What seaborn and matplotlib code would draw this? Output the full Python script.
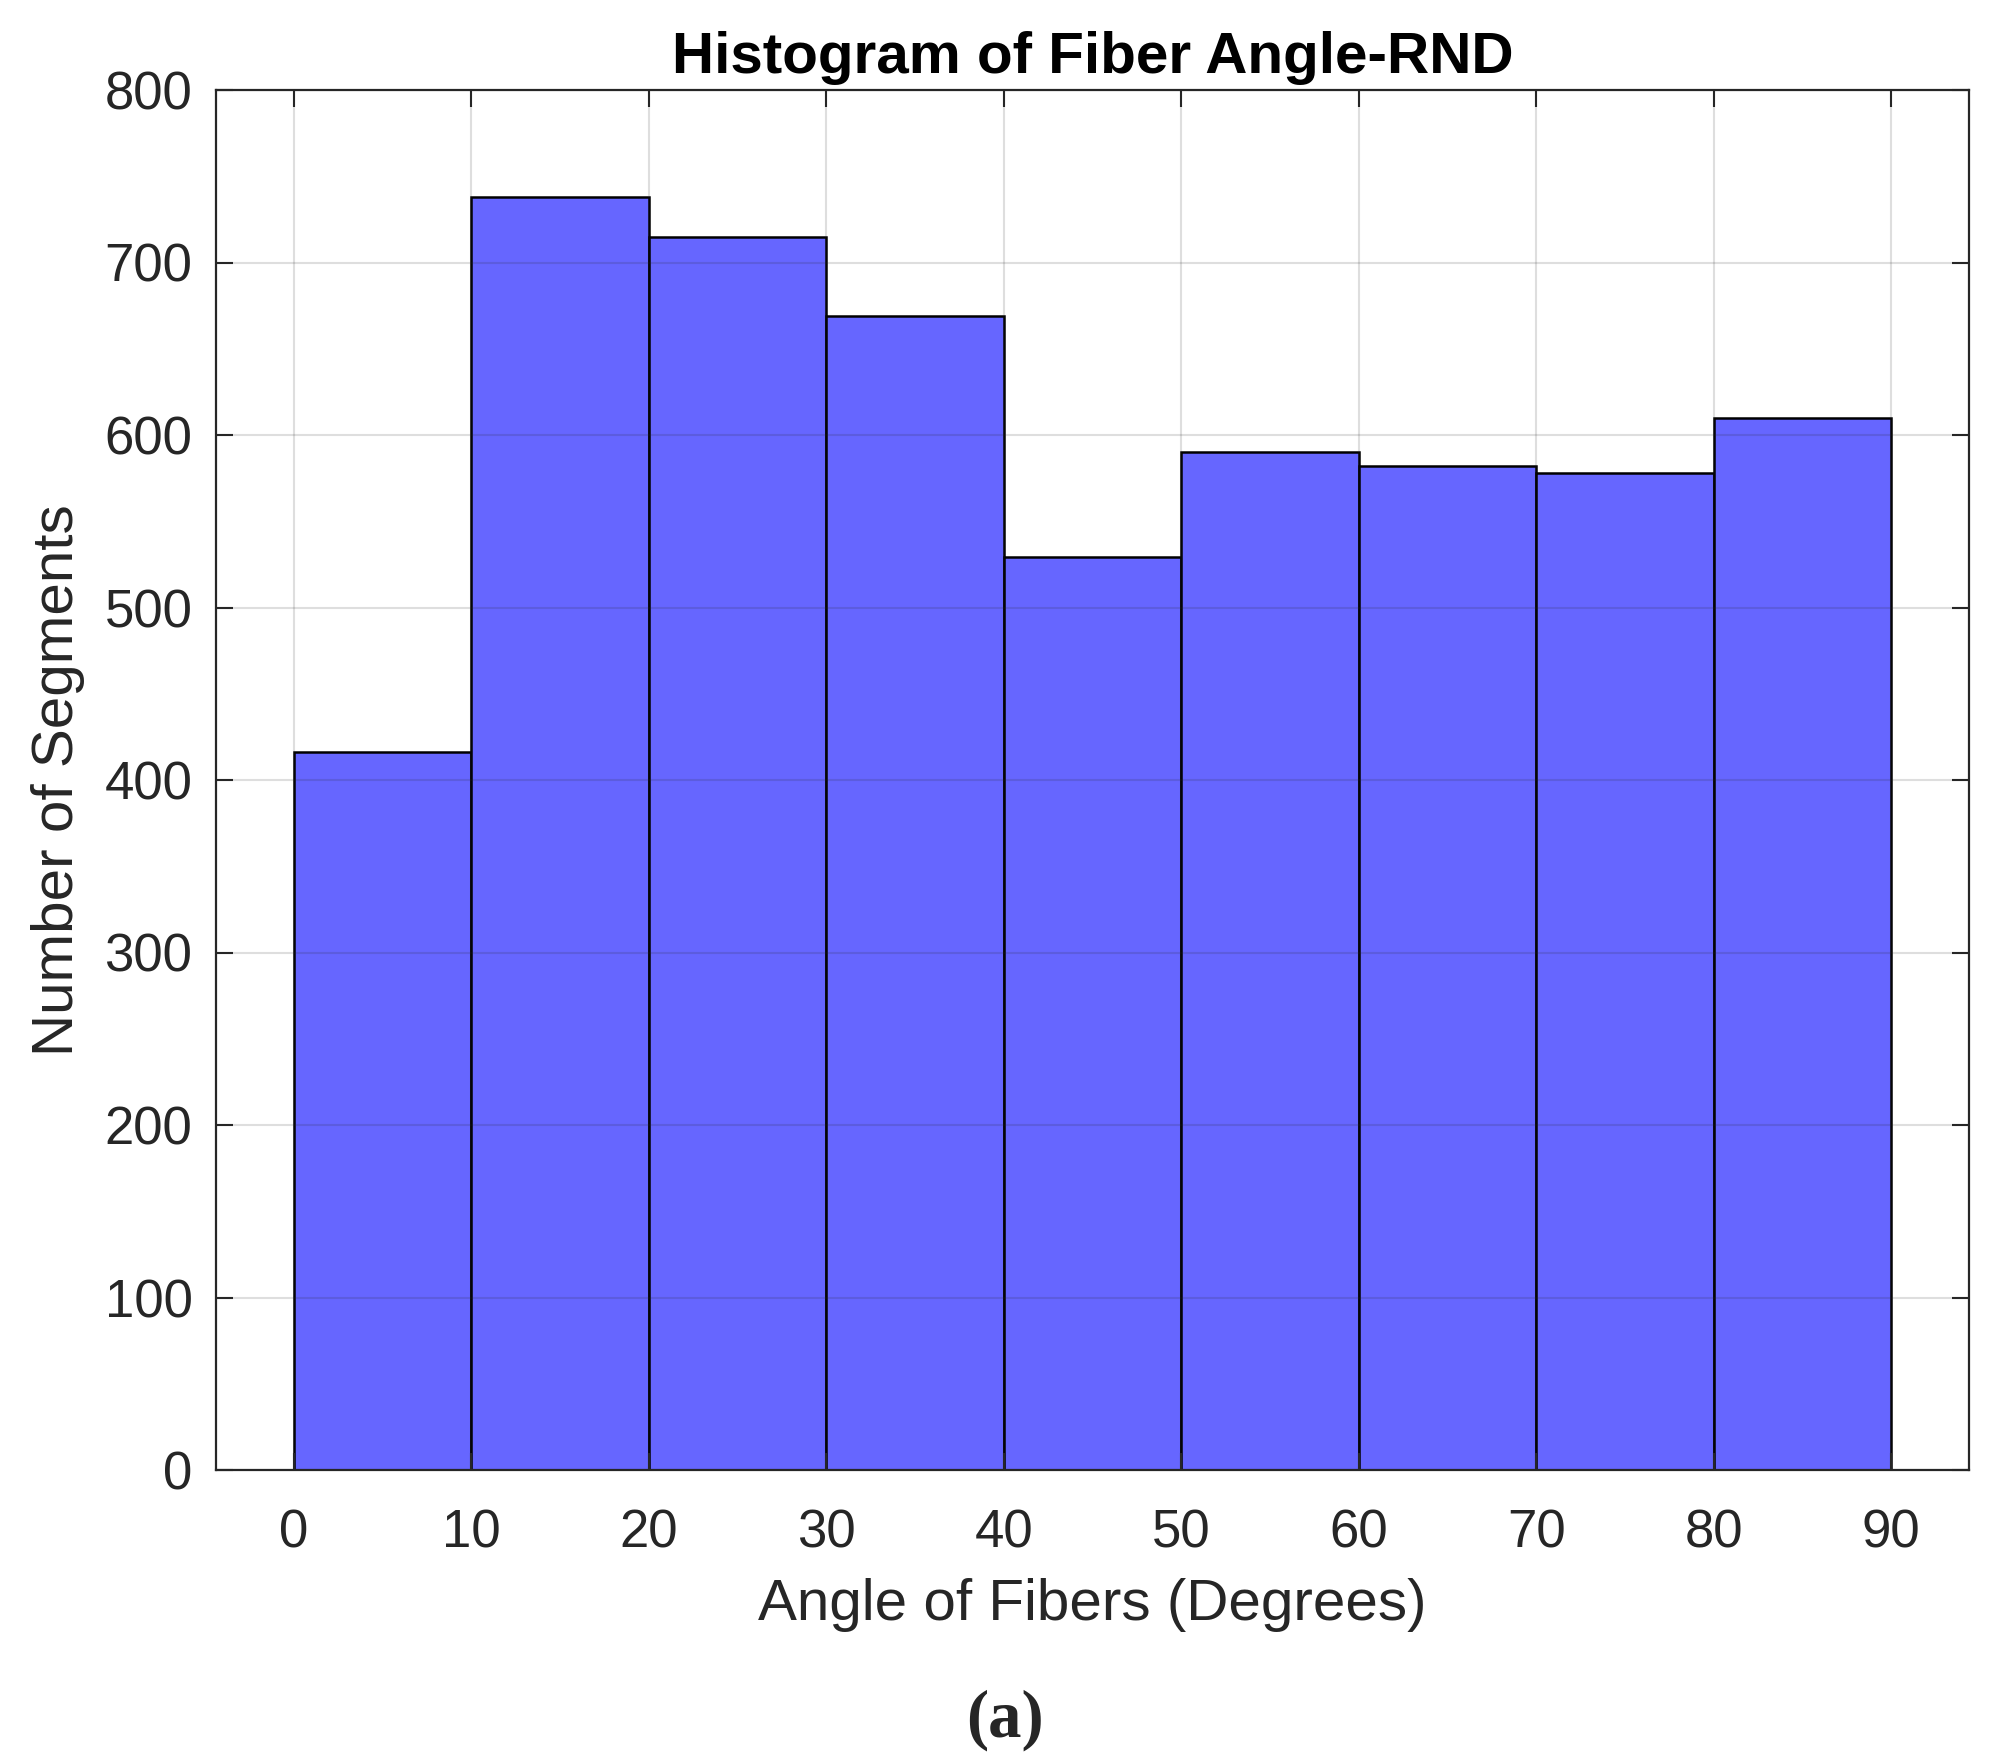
import matplotlib

matplotlib.use("Agg")
import matplotlib.pyplot as plt
import seaborn as sns
import numpy as np

# histogram counts (bins of 10 degrees)
bin_edges = [0, 10, 20, 30, 40, 50, 60, 70, 80, 90]
counts = [416, 738, 715, 669, 529, 590, 582, 578, 610]
x_ticks = [0, 10, 20, 30, 40, 50, 60, 70, 80, 90]
y_ticks = [0, 100, 200, 300, 400, 500, 600, 700, 800]

title = "Histogram of Fiber Angle-RND"
x_label = "Angle of Fibers (Degrees)"
y_label = "Number of Segments"
caption = "(a)"

sns.set_style("whitegrid")
plt.rcParams["font.family"] = ["Liberation Sans", "DejaVu Sans"]

text_col = "#262626"
centers = (np.array(bin_edges[:-1]) + np.array(bin_edges[1:])) / 2

fig = plt.figure(figsize=(19.91, 17.55), dpi=100)
ax = fig.add_axes([216 / 1991, 1 - 1470 / 1755, (1969 - 216) / 1991, (1470 - 90) / 1755])

sns.histplot(x=centers, weights=counts, bins=bin_edges, ax=ax,
             color="#6666FF", alpha=1.0, edgecolor="black", linewidth=1.8)

ax.set_xlim(-4.4, 94.4)
ax.set_ylim(0, 800)
ax.set_xticks(x_ticks)
ax.set_yticks(y_ticks)

# grid over the bars, like the matlab figure
ax.set_axisbelow(False)
ax.grid(True, color="#262626", alpha=0.15, linewidth=1.5)

for s in ax.spines.values():
    s.set_visible(True)
    s.set_color(text_col)
    s.set_linewidth(1.6)

ax.tick_params(axis="both", which="both", direction="in", length=12, width=1.5,
               color=text_col, labelcolor=text_col, labelsize=38,
               top=True, right=True, bottom=True, left=True)
ax.tick_params(axis="x", pad=28)
ax.tick_params(axis="y", pad=17)

ax.set_title(title, fontsize=42, fontweight="bold", pad=12, color="black")
ax.set_xlabel(x_label, fontsize=42, color=text_col, labelpad=14)
ax.set_ylabel(y_label, fontsize=42, color=text_col, labelpad=14)

fig.text(1005 / 1991, 1 - 1720 / 1755, caption, ha="center", va="center",
         fontsize=48, fontweight="bold", family=["Liberation Serif", "DejaVu Serif"])

fig.savefig("out.png", dpi=100)
plt.close(fig)
